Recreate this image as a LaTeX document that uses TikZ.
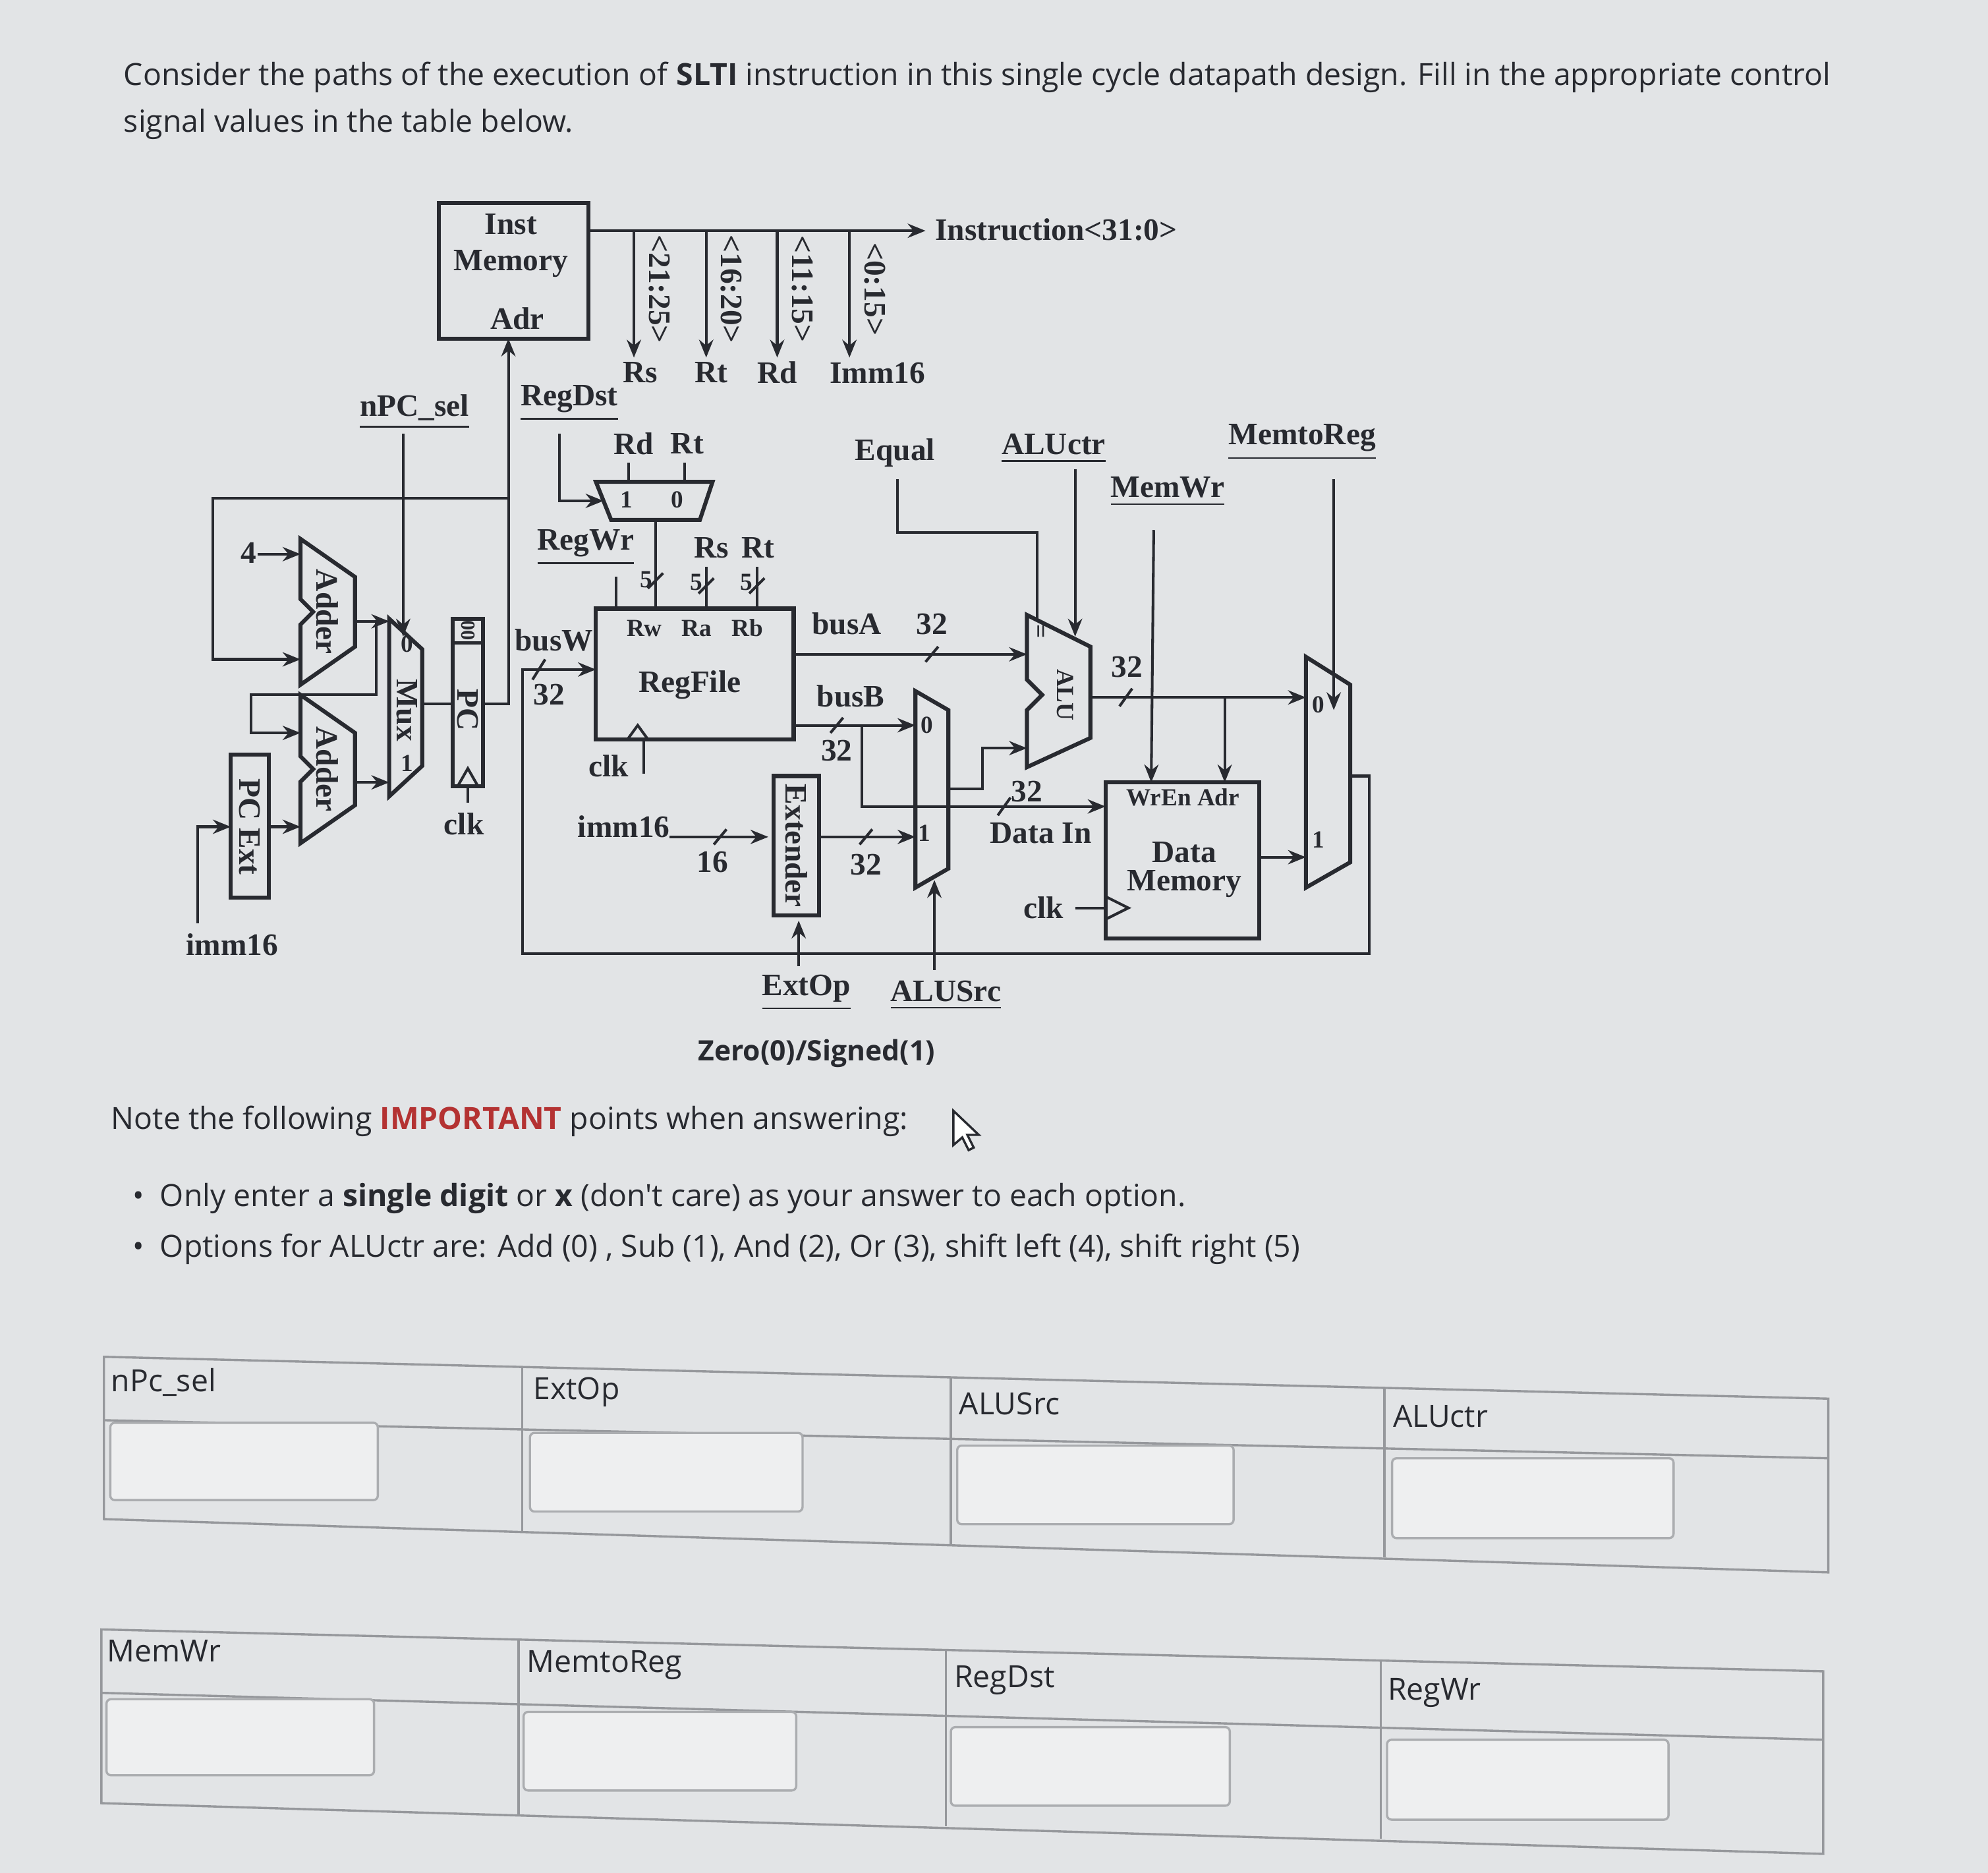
\documentclass[tikz,border=0pt]{standalone}
\usepackage{fontspec}
\setmainfont{Liberation Serif}
\newfontfamily\os{Open Sans}
\usetikzlibrary{arrows.meta}
\definecolor{bgc}{RGB}{226,228,230}
\definecolor{ink}{RGB}{40,42,48}
\definecolor{redt}{RGB}{180,50,50}
\definecolor{tline}{RGB}{150,152,156}
\begin{document}
\begin{tikzpicture}[x=0.01cm,y=-0.01cm,
  w/.style={draw=ink,line width=0.6pt},
  bx/.style={draw=ink,line width=0.9pt},
  ar/.style={w,-{Stealth[length=4pt,width=3.2pt]}},
  lb/.style={font=\bfseries\fontsize{7}{8}\selectfont,text=ink,inner sep=0pt},
  sm/.style={font=\bfseries\fontsize{5.5}{6}\selectfont,text=ink,inner sep=0pt},
  tx/.style={font=\os\fontsize{6.85}{8}\selectfont,text=ink,inner sep=0pt,anchor=west},
  tb/.style={draw=tline,line width=0.5pt},
  ib/.style={draw=tline!80,fill=white!40!bgc,rounded corners=1pt,line width=0.5pt}]
\useasboundingbox (0,0) rectangle (1568,1477);
\fill[bgc] (0,0) rectangle (1568,1477);
% title
\node[tx] (t1) at (97,61) {Consider the paths of the execution of \textbf{SLTI} instruction in this single cycle datapath design. Fill in the appropriate control};
\node[tx] (t2) at (97,98) {signal values in the table below.};
% instruction memory
\draw[bx] (346,160) rectangle (464,267);
\node[lb] (imt1) at (403,177) {Inst};
\node[lb] (imt2) at (403,208) {Memory};
\node[lb] (imt3) at (408,251) {Adr};
\coordinate (iout) at (464,182);
\coordinate (iend) at (730,182);
\draw[ar] (iout) -- (iend);
\node[lb,anchor=west] (instr) at (737,181) {Instruction<31:0>};
\foreach \xx/\ll/\nn in {500/<21:25>/a,557/<16:20>/b,613/<11:15>/c,670/<0:15>/d}{
  \coordinate (tp\nn) at (\xx,182);
  \coordinate (tq\nn) at (\xx,282);
  \draw[ar] (tp\nn) -- (tq\nn);
  \node[lb,rotate=-90] (tl\nn) at (\xx+20,228) {\ll};
}
\node[lb] (rs0) at (505,294) {Rs};
\node[lb] (rt0) at (561,294) {Rt};
\node[lb] (rd0) at (613,294) {Rd};
\node[lb] (im0) at (692,294) {Imm16};
% labels
\node[lb] (npcl) at (327,325) {\underline{nPC\_sel}};
\node[lb] (rdstl) at (449,318) {\underline{RegDst}};
% RegDst mux
\draw[bx] (470,380) -- (562,380) -- (552,410) -- (482,410) -- cycle;
\node[sm] (m1) at (494,394) {1};
\node[sm] (m0) at (534,394) {0};
\node[lb] (rd1) at (500,350) {Rd};
\node[lb] (rt1) at (542,350) {Rt};
\draw[w] (496,365) -- (496,380);
\draw[w] (540,365) -- (540,380);
\draw[ar] (441,342) -- (441,395) -- (476,395);
% regfile
\draw[bx] (470,480) rectangle (626,583);
\node[sm] (rwrarb) at (548,495) {Rw\;\; Ra\;\; Rb};
\node[lb] (rf) at (544,540) {RegFile};
\draw[w] (495,583) -- (503,572) -- (511,583);
\node[lb] (clk1) at (480,604) {clk};
\draw[w] (508,610) -- (508,583);
\draw[w] (517,410) -- (517,480);
\draw[w] (511,464) -- (523,452);
\node[sm] (s5a) at (510,457) {5};
\node[lb] (rwr) at (462,432) {\underline{RegWr}};
\draw[w] (486,455) -- (486,480);
\node[lb] (rs1) at (561,432) {Rs};
\node[lb] (rt2) at (598,432) {Rt};
\draw[w] (557,447) -- (557,480);
\draw[w] (597,447) -- (597,480);
\draw[w] (551,468) -- (563,456);
\draw[w] (591,468) -- (603,456);
\node[sm] (s5b) at (549,459) {5};
\node[sm] (s5c) at (589,459) {5};
% busW and feedback loop
\node[lb] (busw) at (437,505) {busW};
\draw[ar] (1065,612) -- (1080,612) -- (1080,752) -- (412,752) -- (412,528) -- (470,528);
\draw[w] (420,536) -- (430,520);
\node[lb] (b32) at (433,548) {32};
% busA
\node[lb] (busa) at (668,492) {busA};
\node[lb] (a32) at (735,492) {32};
\draw[ar] (626,516) -- (810,516);
\draw[w] (730,522) -- (740,510);
% busB
\node[lb] (busb) at (671,549) {busB};
\draw[ar] (626,572) -- (722,572);
\draw[w] (655,578) -- (665,566);
\node[lb] (bb32) at (660,592) {32};
\draw[ar] (680,572) -- (680,636) -- (872,636);
\node[lb] (d32) at (810,624) {32};
\draw[w] (787,643) -- (797,629);
\node[lb] (datain) at (821,657) {Data In};
% ALUSrc mux
\draw[bx] (722,545) -- (748,560) -- (748,685) -- (722,700) -- cycle;
\node[sm] (am0) at (731,572) {0};
\node[sm] (am1) at (729,657) {1};
\draw[ar] (748,622) -- (775,622) -- (775,590) -- (810,590);
\node[lb] (alusrc) at (746,785) {\underline{ALUSrc}};
\draw[ar] (737,765) -- (737,694);
% extender
\draw[bx] (610,612) rectangle (646,722);
\node[lb,rotate=-90] (ext) at (628,667) {Extender};
\node[lb] (imm16b) at (492,652) {imm16};
\draw[ar] (528,660) -- (606,660);
\draw[w] (563,666) -- (573,654);
\node[lb] (e16) at (562,680) {16};
\draw[ar] (646,660) -- (722,660);
\draw[w] (678,666) -- (688,654);
\node[lb] (e32) at (683,682) {32};
\node[lb] (extop) at (636,783) {\underline{ExtOp}};
\draw[ar] (630,762) -- (630,726);
\node[font=\os\bfseries\fontsize{6.3}{8}\selectfont,text=ink,inner sep=0pt] (zs) at (644,831) {Zero(0)/Signed(1)};
% ALU
\draw[bx] (810,485) -- (860,510) -- (860,582) -- (810,605) -- (810,560) -- (822,548) -- (810,536) -- cycle;
\node[sm,rotate=-90] (alu) at (840,548) {ALU};
\node[sm,rotate=-90] (eq) at (819,498) {=};
\node[lb] (equal) at (706,357) {Equal};
\draw[w] (708,378) -- (708,420) -- (818,420) -- (818,490);
\node[lb] (aluctr) at (831,354) {\underline{ALUctr}};
\draw[ar] (848,370) -- (848,502);
\node[lb] (memwr) at (921,388) {\underline{MemWr}};
\draw[ar] (910,418) -- (908,617);
\node[lb] (m2r) at (1027,349) {\underline{MemtoReg}};
\draw[ar] (1052,378) -- (1052,560);
% ALU out
\draw[ar] (860,550) -- (1030,550);
\draw[w] (883,557) -- (893,543);
\node[lb] (o32) at (889,526) {32};
\draw[ar] (966,550) -- (966,617);
% data memory
\draw[bx] (872,617) rectangle (993,740);
\node[sm] (wren) at (933,629) {WrEn Adr};
\node[lb] (dm1) at (934,672) {Data};
\node[lb] (dm2) at (934,697) {Memory};
\node[lb] (clk3) at (823,716) {clk};
\draw[w] (848,716) -- (872,716);
\draw[w] (872,707) -- (890,716) -- (872,725);
\draw[ar] (993,676) -- (1030,676);
% memtoreg mux
\draw[bx] (1030,518) -- (1065,540) -- (1065,680) -- (1030,700) -- cycle;
\node[sm] (mm0) at (1040,556) {0};
\node[sm] (mm1) at (1040,662) {1};
% left: PC path
\draw[ar] (318,342) -- (318,502);
\draw[bx] (307,488) -- (333,512) -- (333,604) -- (307,628) -- cycle;
\node[sm] (x0) at (321,508) {0};
\node[lb,rotate=-90] (mux) at (321,560) {Mux};
\node[sm] (x1) at (321,602) {1};
\draw[w] (333,555) -- (357,555);
\draw[bx] (357,488) rectangle (381,620);
\draw[w] (357,507) -- (381,507);
\node[font=\bfseries\fontsize{4.5}{5}\selectfont,text=ink,inner sep=0pt,rotate=-90] (z00) at (369,497) {00};
\node[lb,rotate=-90] (pc) at (369,560) {PC};
\draw[w] (361,620) -- (369,606) -- (377,620);
\draw[w] (369,620) -- (369,633);
\node[lb] (clk2) at (366,650) {clk};
\draw[ar] (381,555) -- (401,555) -- (401,267);
\draw[ar] (401,393) -- (168,393) -- (168,520) -- (237,520);
% adders
\foreach \t/\b/\n in {425/540/a,548/665/b}{
  \draw[bx] (237,\t) -- (280,\t+30) -- (280,\b-30) -- (237,\b) -- (237,{(\t+\b)/2+10}) -- (247,{(\t+\b)/2}) -- (237,{(\t+\b)/2-10}) -- cycle;
  \node[lb,rotate=-90] (ad\n) at (258,{(\t+\b)/2}) {Adder};
}
\node[lb] (four) at (196,436) {4};
\draw[ar] (203,437) -- (237,437);
\draw[ar] (280,490) -- (307,490);
\draw[ar] (297,490) -- (297,548) -- (198,548) -- (198,578) -- (237,578);
\draw[ar] (280,617) -- (307,617);
\draw[bx] (182,595) rectangle (212,708);
\node[lb,rotate=-90] (pcext) at (197,652) {PC Ext};
\draw[ar] (156,728) -- (156,652) -- (182,652);
\draw[ar] (212,652) -- (237,652);
\node[lb] (imm16a) at (183,745) {imm16};
% notes
\node[tx] (n1) at (87,884) {Note the following \textbf{\color{redt}IMPORTANT} points when answering:};
\draw[ink,line width=0.5pt,fill=white] (752,876) -- (752,903) -- (759,897) -- (764,907) -- (768,905) -- (763,895) -- (772,895) -- cycle;
\node[tx] (n2) at (104,945) {\textbullet\ \ Only enter a \textbf{single digit} or \textbf{x} (don't care) as your answer to each option.};
\node[tx] (n3) at (104,985) {\textbullet\ \ Options for ALUctr are: Add (0) , Sub (1), And (2), Or (3), shift left (4), shift right (5)};
% table 1
\draw[tb] (82,1070) -- (1442,1103) -- (1442,1240) -- (82,1198) -- cycle;
\draw[tb] (82,1120) -- (1442,1150);
\draw[tb] (412,1078) -- (412,1208);
\draw[tb] (750,1086) -- (750,1218);
\draw[tb] (1092,1095) -- (1092,1228);
\node[tx] (h1) at (87,1090) {nPc\_sel};
\node[tx] (h2) at (420,1098) {ExtOp};
\node[tx] (h3) at (756,1107) {ALUSrc};
\node[tx] (h4) at (1098,1117) {ALUctr};
\draw[ib] (87,1122) rectangle (298,1183);
\draw[ib] (418,1130) rectangle (633,1192);
\draw[ib] (755,1140) rectangle (973,1202);
\draw[ib] (1098,1150) rectangle (1320,1213);
% table 2
\draw[tb] (80,1285) -- (1438,1318) -- (1438,1462) -- (80,1422) -- cycle;
\draw[tb] (80,1335) -- (1438,1372);
\draw[tb] (409,1293) -- (409,1432);
\draw[tb] (746,1301) -- (746,1440);
\draw[tb] (1089,1310) -- (1089,1450);
\node[tx] (g1) at (84,1302) {MemWr};
\node[tx] (g2) at (415,1313) {MemtoReg};
\node[tx] (g3) at (752,1325) {RegDst};
\node[tx] (g4) at (1094,1335) {RegWr};
\draw[ib] (84,1340) rectangle (295,1400);
\draw[ib] (413,1350) rectangle (628,1412);
\draw[ib] (750,1362) rectangle (970,1424);
\draw[ib] (1094,1372) rectangle (1316,1435);
\end{tikzpicture}
\end{document}
